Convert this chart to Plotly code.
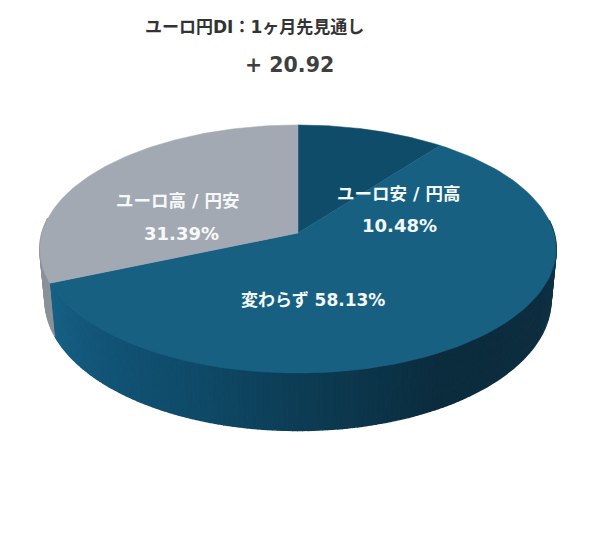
import numpy as np
import plotly.graph_objects as go

categories = ["ユーロ安 / 円高", "変わらず", "ユーロ高 / 円安"]
shares = [10.48, 58.13, 31.39]
title_text = "ユーロ円DI：1ヶ月先見通し"
di_text = "+ 20.92"

top_colors = ["#0f4c6a", "#176082", "#a3a9b2"]
side_stops = [(90, "#133a4f"), (115, "#0e2e40"), (150, "#0b2c3d"), (180, "#0d3d55"),
              (200, "#0f4a68"), (225, "#125578"), (247, "#176285")]
gray_side = "#8c9199"
font = "DejaVu Sans, Noto Sans CJK JP"

# pie geometry in page pixels, k is the perspective squeeze
cx, cy = 298, 233
ax, by = 256, 122
k = 0.129
depth = 50
base_scale = 0.98  # lower rim is a little narrower than the top


def project(theta, drop=0, sx=1.0):
    t = np.radians(theta)
    w = 1 + k * np.cos(t)
    return cx + sx * ax * np.sin(t) / w, cy - by * np.cos(t) / w + drop / w


def hex_rgb(c):
    return np.array([int(c[i:i + 2], 16) for i in (1, 3, 5)])


def side_color(theta):
    angles = [s[0] for s in side_stops]
    rgb = np.array([hex_rgb(s[1]) for s in side_stops])
    vals = [np.interp(theta, angles, rgb[:, i]) for i in range(3)]
    return "rgb(%d,%d,%d)" % tuple(vals)


fig = go.Figure()

# side wall, drawn as thin strips so the shading can change along the rim
ends = np.cumsum(shares) / sum(shares) * 360
edges = np.arange(84, 278, 1.0)
for a, b in zip(edges[:-1], edges[1:]):
    mid = (a + b) / 2
    col = gray_side if mid > ends[1] else side_color(mid)
    th = np.array([a, b])
    x1, y1 = project(th)
    x2, y2 = project(th[::-1], depth, base_scale)
    fig.add_trace(go.Scatter(x=np.r_[x1, x2], y=np.r_[y1, y2], fill="toself", mode="lines",
                             fillcolor=col, line=dict(color=col, width=1.5), hoverinfo="skip"))

# top face, slices clockwise from 12 o'clock
start = 0
for end, col in zip(ends, top_colors):
    th = np.linspace(start, end, 120)
    x, y = project(th)
    fig.add_trace(go.Scatter(x=np.r_[cx, x, cx], y=np.r_[cy, y, cy], fill="toself", mode="lines",
                             fillcolor=col, line=dict(color=col, width=0.5), hoverinfo="skip"))
    start = end

notes = [
    (254, 27, title_text, 17, "#333333"),
    (289, 65, di_text, 20.5, "#3f3f3f"),
    (399, 194, categories[0], 17.5, "#f4f8fb"),
    (399, 225, f"{shares[0]:.2f}%", 18, "#f4f8fb"),
    (178, 201, categories[2], 17.5, "#f7f8fa"),
    (181, 233, f"{shares[2]:.2f}%", 18, "#f7f8fa"),
    (313, 300, f"{categories[1]} {shares[1]:.2f}%", 17, "#f4f8fb"),
]
for x, y, text, size, col in notes:
    fig.add_annotation(x=x, y=y, text=f"<b>{text}</b>", showarrow=False,
                       font=dict(family=font, size=size, color=col))

# the page sits 8px in from the window corner, so the ranges start at 8
fig.update_layout(
    width=600, height=537, margin=dict(l=0, r=0, t=0, b=0),
    paper_bgcolor="white", plot_bgcolor="white", showlegend=False,
    xaxis=dict(range=[8, 608], visible=False, fixedrange=True),
    yaxis=dict(range=[545, 8], visible=False, fixedrange=True),
)
fig.write_html("out.html")
